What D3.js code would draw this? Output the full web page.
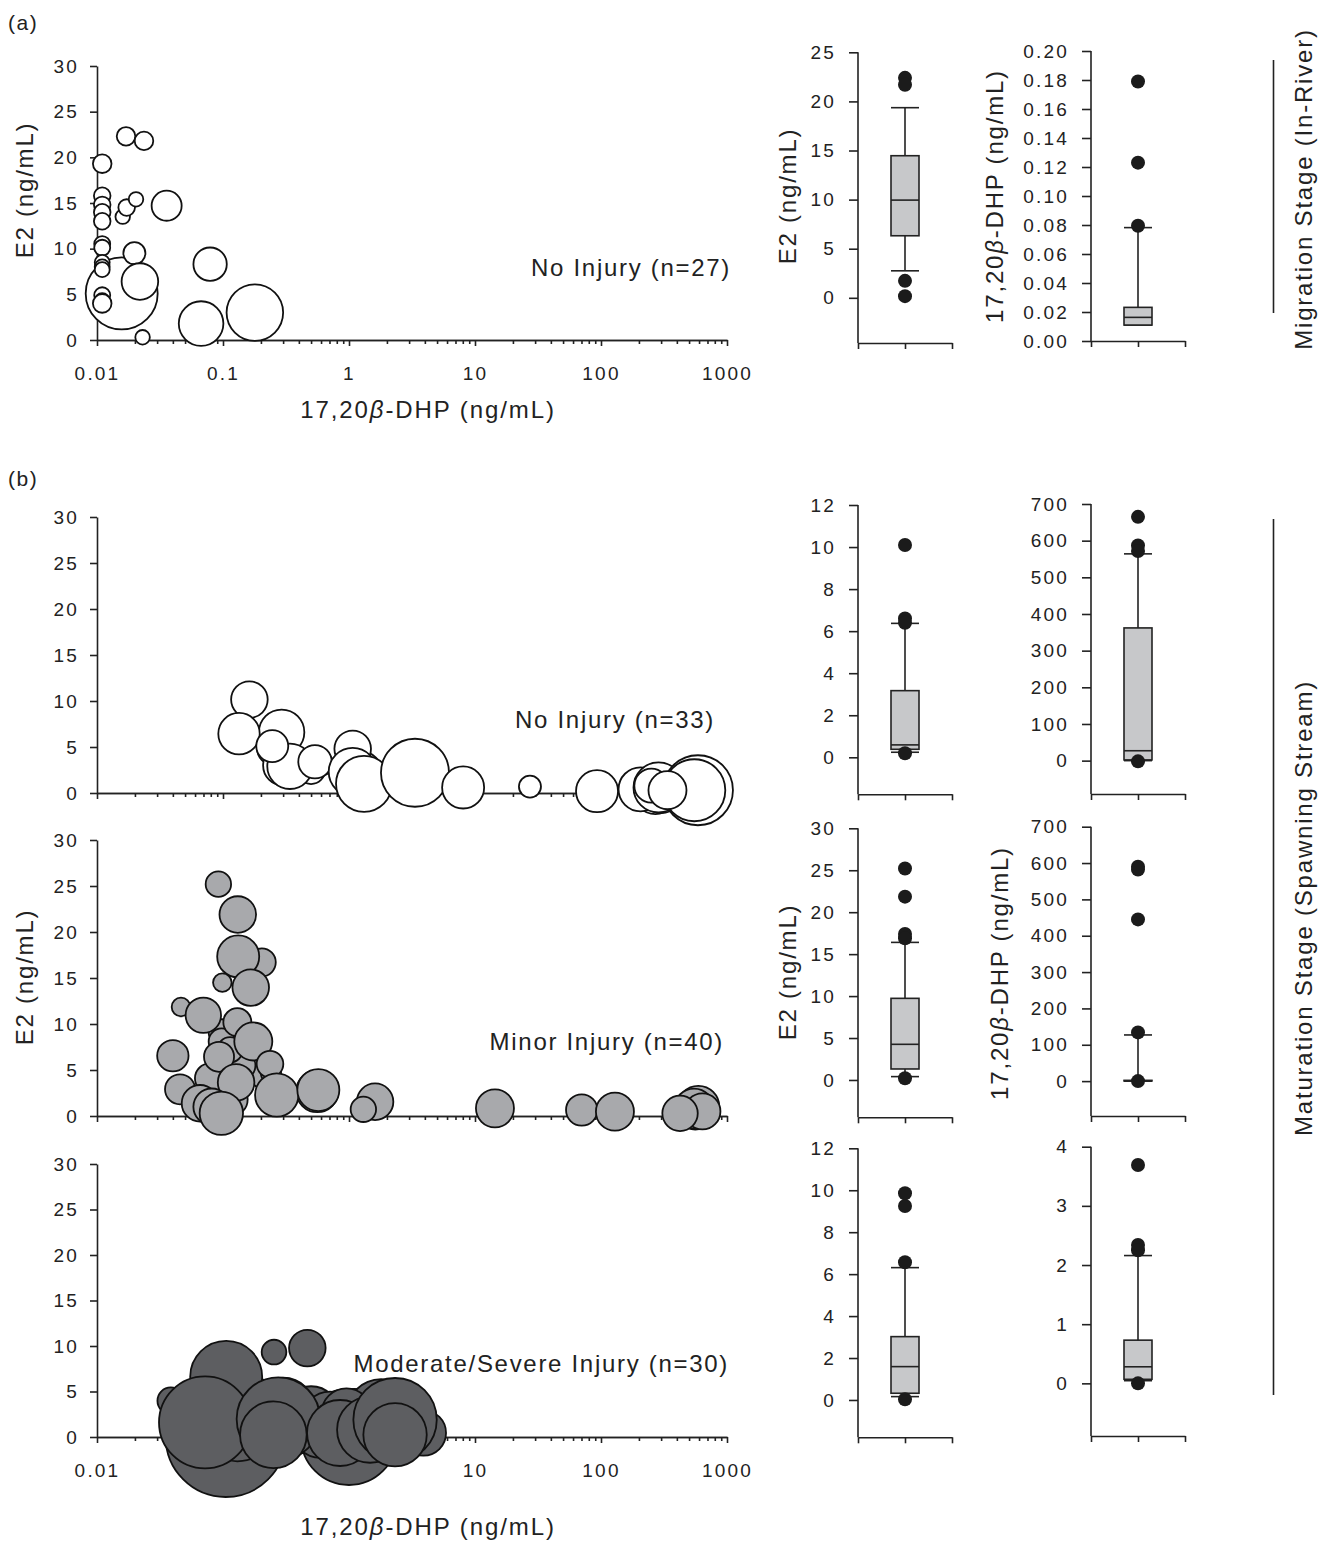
<!DOCTYPE html>
<html>
<head>
<meta charset="utf-8">
<title>E2 vs 17,20β-DHP by injury</title>
<script src="https://d3js.org/d3.v7.min.js"></script>
<style>
  body { margin: 0; background: #fff; }
  svg text { font-family: "Liberation Sans", Arial, sans-serif; fill: #222; }
</style>
</head>
<body>
<svg id="chart" width="1329" height="1541"></svg>
<script>
// ---------- data ----------
const dhpTicks = [0.01, 0.1, 1, 10, 100, 1000];
const e2Ticks = [0, 5, 10, 15, 20, 25, 30];

// (a) migration stage, no injury (n=27): DHP, E2, bubble variable
const migDhp  = [0.016, 0.0157, 0.017, 0.0236, 0.011, 0.011, 0.011, 0.011, 0.011, 0.016, 0.0172, 0.0204, 0.0357, 0.011, 0.011, 0.0198, 0.011, 0.011, 0.011, 0.0219, 0.011, 0.011, 0.011, 0.023, 0.079, 0.067, 0.179];
const migE2   = [6.9, 5.1, 22.3, 21.8, 19.3, 15.8, 14.8, 14.0, 13.0, 13.5, 14.5, 15.4, 14.7, 10.5, 10.1, 9.5, 8.5, 8.0, 7.7, 6.4, 4.9, 4.3, 4.0, 0.3, 8.3, 1.8, 3.0];
const migSize = [3.3, 81, 5.4, 5.4, 5.4, 4.3, 4.3, 4.3, 4.3, 3.3, 4.3, 3.3, 14.1, 4, 4, 7.6, 3.5, 3.5, 3.5, 20.9, 4, 3.5, 5.4, 3.3, 17.4, 31.1, 50];

// (b) maturation stage, no injury (n=33)
const noDhp  = [0.25, 0.3, 0.6, 0.5, 1.1, 1.2, 3.0, 230, 270, 300, 320, 350, 560, 600,
                0.162, 0.292, 0.134, 0.34, 0.246, 0.537, 1.07, 1.07, 1.316, 3.34, 8.05, 27.3, 93, 206, 286, 588, 550, 251, 337];
const noE2   = [4.8, 3.0, 3.2, 2.5, 1.5, 2.0, 2.0, 0.3, 0.1, 0.2, 0.5, 0.2, 0.5, 0.4,
                10.15, 6.6, 6.45, 2.9, 5.1, 3.4, 4.8, 2.3, 1.0, 2.2, 0.6, 0.7, 0.2, 0.4, 0.6, 0.3, 0.3, 0.8, 0.3];
const noSize = [16, 25, 9, 12.3, 25, 36, 49, 20.3, 30.3, 30.3, 25, 14.1, 56.3, 68.1,
                20.9, 32.2, 26.8, 32.2, 16, 17.4, 20.9, 36, 49, 72.3, 27.6, 7.6, 27.6, 30.3, 39.1, 76.6, 60.1, 18.1, 22.6];

// (b) minor injury (n=40)
const minorDhp  = [0.22, 0.14, 0.09, 0.115, 560, 0.0976, 0.0976, 0.1137, 0.56, 0.24,
                   0.0919, 0.131, 0.203, 0.132, 0.0988, 0.166, 0.0464, 0.0698, 0.13, 0.174, 0.04, 0.236, 0.0788, 0.093, 0.127, 0.0456, 0.267, 0.571, 0.0657, 0.0813, 0.097, 1.61, 1.3, 14.4, 70.3, 129, 592, 548, 638, 424];
const minorE2   = [4.4, 5.5, 2.5, 1.8, 0.6, 9.1, 8.1, 7.2, 2.7, 4.66,
                   25.2, 21.9, 16.7, 17.35, 14.5, 13.96, 11.85, 10.95, 10.2, 8.1, 6.55, 5.64, 4.09, 6.43, 3.65, 2.9, 2.28, 2.82, 1.38, 1.0, 0.3, 1.55, 0.73, 0.83, 0.65, 0.47, 1.0, 0.8, 0.5, 0.29];
const minorSize = [14.1, 12.3, 16, 18.1, 22.6, 10.6, 10.6, 10.1, 27.6, 6.3,
                   10.1, 20.9, 12.3, 27.6, 5.4, 20.9, 5.4, 19.6, 12.3, 22.6, 15.4, 11.1, 14.1, 14.1, 20.9, 14.1, 29.4, 27.6, 20.9, 20.9, 29.4, 20.9, 10.1, 22.6, 15.4, 22.6, 27.6, 25, 20.3, 19.6];

// (b) moderate/severe injury (n=30)
const sevDhp  = [0.105, 1.0, 0.08, 0.15, 0.13, 0.2, 0.3, 0.4, 0.5, 0.6, 1.1, 1.3, 1.8, 2.8, 3.2, 0.06,
                 0.0385, 0.106, 0.072, 0.254, 0.467, 0.707, 0.275, 0.251, 0.955, 0.849, 1.47, 3.89, 2.32, 2.32];
const sevE2   = [0.0, 0.0, 3.5, 3.0, 1.5, 2.0, 3.0, 1.5, 2.5, 1.0, 2.0, 1.0, 2.5, 1.5, 2.0, 2.5,
                 3.98, 6.6, 1.6, 9.33, 9.77, 1.9, 1.98, 0.25, 2.6, 0.44, 0.8, 0.44, 1.9, 0.25];
const sevSize = [225, 144, 64, 76.6, 90.3, 56.3, 64, 56.3, 49, 56.3, 56.3, 56.3, 76.6, 56.3, 30.3, 40,
                 11.1, 81, 132.3, 9.5, 20.9, 49, 108.7, 69.4, 39.1, 68.1, 68.1, 32.2, 108.7, 62.8];

// box plots: whiskers, quartiles, median, outliers
const boxNames    = ["a-E2", "a-DHP", "no-E2", "no-DHP", "minor-E2", "minor-DHP", "sev-E2", "sev-DHP"];
const boxLow      = [2.75, 0.011, 0.24, 0, 0.4, 0, 0.16, 0.045];
const boxQ1       = [6.32, 0.011, 0.38, 2, 1.31, 0.5, 0.32, 0.068];
const boxMedian   = [9.95, 0.0163, 0.59, 27, 4.25, 1, 1.59, 0.28];
const boxQ3       = [14.47, 0.0232, 3.17, 362, 9.73, 2, 3.02, 0.73];
const boxHigh     = [19.36, 0.0782, 6.37, 564, 16.4, 127, 6.31, 2.16];
const boxOutliers = [
  [22.4, 21.7, 1.73, 0.17],
  [0.179, 0.123, 0.0795],
  [10.1, 6.6, 6.4, 0.19],
  [665, 587, 572, -2],
  [25.2, 21.85, 17.4, 16.9, 0.2],
  [590, 582, 445, 134, 0],
  [9.86, 9.25, 6.57, 0.03],
  [3.69, 2.34, 2.25, 0]
];
const boxAxisMin  = [-4.6, 0, -1.76, -91, -4.45, -96, -1.78, -0.89];
const boxAxisMax  = [25, 0.2, 12, 700, 30, 700, 12, 4];
const boxTicks    = [
  [0, 5, 10, 15, 20, 25],
  [0, 0.02, 0.04, 0.06, 0.08, 0.10, 0.12, 0.14, 0.16, 0.18, 0.20],
  [0, 2, 4, 6, 8, 10, 12],
  [0, 100, 200, 300, 400, 500, 600, 700],
  [0, 5, 10, 15, 20, 25, 30],
  [0, 100, 200, 300, 400, 500, 600, 700],
  [0, 2, 4, 6, 8, 10, 12],
  [0, 1, 2, 3, 4]
];

// ---------- drawing ----------
const svg = d3.select('#chart');
const ink = '#222';
const sizeScale = d3.scaleSqrt().domain([0, 100]).range([0, 40]);

function styleAxis(g) {
  g.selectAll('path, line').attr('stroke', ink).attr('stroke-width', 1.6);
  g.selectAll('text').attr('font-size', '19px').attr('letter-spacing', '2.2px').attr('fill', ink);
}

function dhpTitle(t) {
  t.append('tspan').text('17,20');
  t.append('tspan').attr('font-style', 'italic').text('β');
  t.append('tspan').text('-DHP (ng/mL)');
}

function vTitle(x, y, fn) {
  const t = svg.append('text')
    .attr('transform', `translate(${x},${y}) rotate(-90)`)
    .attr('text-anchor', 'middle')
    .attr('font-size', '24px')
    .attr('letter-spacing', '1.8px');
  fn(t);
}

function scatter(top, bottom, xs, ys, ss, fill, showLabels) {
  const x = d3.scaleLog().domain([0.01, 1000]).range([97, 727]);
  const y = d3.scaleLinear().domain([0, 30]).range([bottom, top]);

  const minor = [];
  dhpTicks.slice(0, -1).forEach(d => { for (let k = 2; k <= 9; k++) minor.push(d * k); });

  const gMinor = svg.append('g').attr('transform', `translate(0,${bottom})`)
    .call(d3.axisBottom(x).tickValues(minor).tickSize(4).tickSizeOuter(0).tickFormat(''));
  styleAxis(gMinor);
  const gx = svg.append('g').attr('transform', `translate(0,${bottom})`)
    .call(d3.axisBottom(x).tickValues(dhpTicks).tickSize(6).tickSizeOuter(0)
      .tickFormat(showLabels ? (d => d3.format('~g')(d)) : ''));
  styleAxis(gx);
  gx.selectAll('text').attr('dy', '1.65em');

  const gy = svg.append('g').attr('transform', 'translate(97,0)')
    .call(d3.axisLeft(y).tickValues(e2Ticks).tickSize(7).tickSizeOuter(0));
  styleAxis(gy);
  gy.selectAll('text').attr('dx', '-8px');

  svg.append('g').selectAll('circle')
    .data(d3.range(xs.length))
    .join('circle')
    .attr('cx', i => x(xs[i]))
    .attr('cy', i => y(ys[i]))
    .attr('r', i => sizeScale(ss[i]))
    .attr('fill', fill)
    .attr('stroke', '#111')
    .attr('stroke-width', 1.8);
}

function boxPlot(i, axisX, rangeBottom, rangeTop) {
  const y = d3.scaleLinear().domain([boxAxisMin[i], boxAxisMax[i]]).range([rangeBottom, rangeTop]);
  const x = d3.scalePoint().domain(['l', 'c', 'r']).range([axisX, axisX + 94]);
  const cx = x('c');
  const half = 14;

  const gy = svg.append('g').attr('transform', `translate(${axisX},0)`)
    .call(d3.axisLeft(y).tickValues(boxTicks[i]).tickSize(9).tickSizeOuter(0)
      .tickFormat(i === 1 ? d3.format('.2f') : d3.format('~g')));
  styleAxis(gy);
  gy.selectAll('text').attr('dx', '-10px');
  // continue the vertical axis line down to the bottom of the range
  gy.select('.domain').attr('d', `M0,${rangeBottom}V${rangeTop}`);

  const gx = svg.append('g').attr('transform', `translate(0,${rangeBottom})`)
    .call(d3.axisBottom(x).tickSize(6).tickSizeOuter(0).tickFormat(''));
  styleAxis(gx);

  const g = svg.append('g').attr('stroke', ink).attr('stroke-width', 1.6);
  g.append('line').attr('x1', cx).attr('x2', cx).attr('y1', y(boxLow[i])).attr('y2', y(boxHigh[i]));
  [boxLow[i], boxHigh[i]].forEach(v => {
    g.append('line').attr('x1', cx - half).attr('x2', cx + half).attr('y1', y(v)).attr('y2', y(v));
  });
  g.append('rect')
    .attr('x', cx - half).attr('width', 2 * half)
    .attr('y', y(boxQ3[i])).attr('height', Math.max(0, y(boxQ1[i]) - y(boxQ3[i])))
    .attr('fill', '#c7c8ca');
  g.append('line').attr('x1', cx - half).attr('x2', cx + half)
    .attr('y1', y(boxMedian[i])).attr('y2', y(boxMedian[i]));

  svg.append('g').selectAll('circle')
    .data(boxOutliers[i])
    .join('circle')
    .attr('cx', cx).attr('cy', d => y(d)).attr('r', 7)
    .attr('fill', '#1b1b1b');
}

// panel labels
svg.append('text').attr('x', 8).attr('y', 30).attr('font-size', '21px').attr('letter-spacing', '1.5px').text('(a)');
svg.append('text').attr('x', 8).attr('y', 486).attr('font-size', '21px').attr('letter-spacing', '1.5px').text('(b)');

// scatter panels
scatter(66, 340, migDhp, migE2, migSize, '#fff', true);
scatter(517, 793, noDhp, noE2, noSize, '#fff', false);
scatter(840, 1116, minorDhp, minorE2, minorSize, '#a8a9ac', false);
scatter(1164, 1437, sevDhp, sevE2, sevSize, '#5d5e61', true);

// annotations
const notes = [
  ['No Injury (n=27)', 731, 276],
  ['No Injury (n=33)', 715, 728],
  ['Minor Injury (n=40)', 724, 1050],
  ['Moderate/Severe Injury (n=30)', 729, 1372]
];
notes.forEach(([t, x, y]) => {
  svg.append('text').attr('x', x).attr('y', y).attr('text-anchor', 'end')
    .attr('font-size', '24px').attr('letter-spacing', '1.7px').text(t);
});

// scatter axis titles
vTitle(33, 190, t => t.text('E2 (ng/mL)'));
vTitle(33, 977, t => t.text('E2 (ng/mL)'));
[418, 1535].forEach(yy => {
  const t = svg.append('text').attr('x', 428).attr('y', yy).attr('text-anchor', 'middle')
    .attr('font-size', '24px').attr('letter-spacing', '1.9px');
  dhpTitle(t);
});

// box plots
boxPlot(0, 858, 343, 52.3);
boxPlot(1, 1091, 341, 51);
boxPlot(2, 858, 794.3, 505);
boxPlot(3, 1091, 794, 504);
boxPlot(4, 858, 1117.3, 828.3);
boxPlot(5, 1091, 1116, 826.7);
boxPlot(6, 858, 1437.3, 1148.3);
boxPlot(7, 1091, 1436, 1146.7);

vTitle(796, 196, t => t.text('E2 (ng/mL)'));
vTitle(1003, 196, dhpTitle);
vTitle(796, 972, t => t.text('E2 (ng/mL)'));
vTitle(1008, 973, dhpTitle);

// stage brackets
svg.append('line').attr('x1', 1273.5).attr('x2', 1273.5).attr('y1', 60).attr('y2', 313)
  .attr('stroke', ink).attr('stroke-width', 1.6);
svg.append('line').attr('x1', 1273.5).attr('x2', 1273.5).attr('y1', 519).attr('y2', 1395)
  .attr('stroke', ink).attr('stroke-width', 1.6);
vTitle(1312, 189, t => t.text('Migration Stage (In-River)'));
vTitle(1312, 908, t => t.text('Maturation Stage (Spawning Stream)'));
</script>
</body>
</html>
